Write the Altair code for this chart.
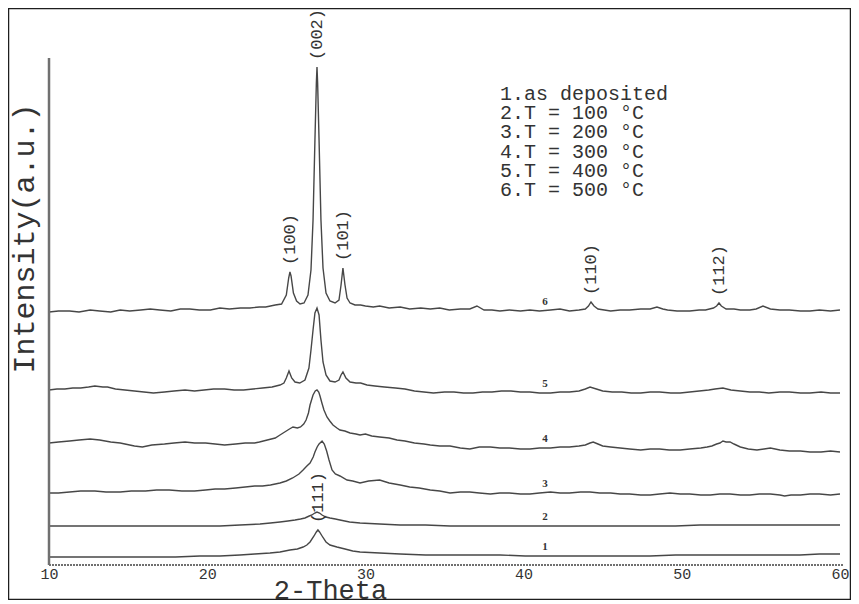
import altair as alt
import pandas as pd
import numpy as np

# ---------------- data ----------------
# 2-theta (degrees) and intensity (a.u., offset-stacked as drawn)
tt_1 = [10.0, 11.6, 13.22, 14.8, 16.38, 18.0, 19.54, 20.8, 22.07, 23.0, 23.97, 24.6, 25.23, 25.7, 26.06, 26.3,
        26.5, 26.75, 26.9, 27.0, 27.1, 27.26, 27.51, 27.76, 28.2, 28.71, 29.2, 29.66, 30.9, 32.19, 33.8, 35.35,
        36.9, 38.51, 40.1, 41.67, 43.2, 44.83, 46.4, 47.99, 49.6, 51.15, 52.7, 54.31, 55.9, 57.47, 58.7, 60.0]
int_1 = [8, 8, 8, 8, 8, 8, 9, 9, 10, 11, 12, 13, 15, 16, 18, 20,
         23, 29, 33, 35, 33, 29, 23, 20, 18, 16, 14, 13, 12, 11, 10, 10,
         10, 10, 9, 9, 9, 9, 9, 9, 10, 10, 10, 10, 10, 10, 11, 11]

tt_2 = [10.0, 11.6, 13.2, 14.8, 16.4, 18.0, 19.5, 20.8, 22.07, 23.34, 24.0, 24.6, 25.1, 25.55, 25.9, 26.18,
        26.45, 26.62, 26.8, 26.94, 27.1, 27.26, 27.5, 27.76, 28.1, 28.39, 29.0, 29.66, 30.9, 32.19, 33.8, 35.35,
        36.9, 38.51, 40.1, 41.67, 43.2, 44.83, 46.4, 47.99, 49.6, 51.15, 52.7, 54.31, 55.9, 57.47, 58.7, 60.0]
int_2 = [39, 39, 39, 39, 39, 39, 39, 39, 40, 41, 42, 43, 44, 45, 46, 47,
         49, 50, 52, 53, 52, 50, 48, 47, 46, 45, 43, 42, 41, 40, 40, 39,
         39, 39, 39, 39, 39, 39, 39, 39, 39, 40, 40, 40, 40, 40, 40, 40]

tt_3 = [10.0, 10.6, 11.3, 12.0, 12.9, 13.6, 14.5, 15.2, 16.1, 16.8, 17.6, 18.4, 19.2, 19.9, 20.5, 21.1,
        21.8, 22.4, 23.0, 23.5, 24.0, 24.6, 25.0, 25.4, 25.8, 26.06, 26.3, 26.5, 26.7, 26.81, 26.95, 27.07,
        27.26, 27.4, 27.55, 27.7, 27.89, 28.1, 28.39, 28.84, 29.2, 29.66, 30.2, 30.9, 31.5, 32.2, 32.8, 33.4,
        34.1, 34.7, 35.35, 36.0, 36.6, 37.2, 37.9, 38.5, 39.1, 39.8, 40.4, 41.0, 41.7, 42.3, 42.9, 43.6,
        44.2, 44.8, 45.5, 46.1, 46.7, 47.4, 48.0, 48.6, 49.25, 49.9, 50.5, 51.2, 51.8, 52.4, 53.05, 53.7,
        54.3, 54.9, 55.6, 56.2, 56.5, 56.9, 57.5, 58.1, 58.7, 59.4, 60.0]
int_3 = [72, 72, 73, 74, 74, 73, 73, 74, 74, 75, 75, 74, 74, 75, 76, 76,
         77, 78, 79, 79, 80, 82, 84, 87, 91, 95, 99, 102, 108, 113, 118, 121,
         124, 121, 114, 105, 95, 91, 89, 85, 84, 82, 84, 85, 82, 80, 78, 77,
         75, 74, 72, 73, 73, 72, 71, 72, 72, 71, 71, 72, 73, 72, 72, 73,
         73, 72, 72, 71, 71, 70, 70, 71, 72, 71, 71, 70, 70, 71, 71, 70,
         70, 71, 71, 70, 69, 70, 70, 71, 71, 70, 71]

tt_4 = [10.0, 10.6, 11.3, 11.9, 12.6, 13.2, 13.9, 14.5, 14.8, 15.4, 15.9, 16.5, 17.3, 17.9, 18.6, 19.2,
        19.9, 20.5, 21.1, 21.8, 22.4, 23.0, 23.3, 23.8, 24.3, 24.6, 24.9, 25.2, 25.42, 25.7, 25.9, 26.1,
        26.25, 26.4, 26.5, 26.69, 26.83, 26.94, 27.05, 27.13, 27.25, 27.38, 27.57, 27.75, 27.95, 28.2, 28.39, 28.7,
        29.03, 29.4, 29.66, 30.0, 30.4, 30.9, 31.5, 32.0, 32.5, 33.1, 33.7, 34.1, 34.7, 35.35, 36.0, 36.6,
        37.2, 37.9, 38.5, 39.1, 39.8, 40.4, 41.0, 41.7, 42.3, 42.9, 43.5, 43.9, 44.2, 44.4, 44.7, 45.0,
        45.5, 46.1, 46.7, 47.4, 48.0, 48.6, 49.2, 49.9, 50.5, 51.2, 51.6, 51.9, 52.2, 52.41, 52.6, 52.8,
        53.05, 53.3, 53.7, 54.2, 54.75, 55.2, 55.6, 56.2, 56.8, 57.5, 58.1, 58.8, 59.4, 60.0]
int_4 = [122, 123, 124, 125, 126, 125, 123, 122, 121, 119, 118, 120, 121, 122, 123, 122,
         122, 121, 120, 121, 122, 122, 123, 125, 127, 130, 133, 136, 138, 137, 138, 141,
         145, 152, 160, 170, 174, 175, 173, 169, 162, 155, 148, 144, 140, 137, 135, 134,
         132, 131, 130, 131, 129, 128, 127, 125, 124, 122, 121, 120, 119, 119, 117, 116,
         118, 118, 117, 117, 116, 116, 117, 117, 118, 118, 119, 120, 122, 123, 121, 119,
         118, 117, 116, 115, 116, 116, 115, 115, 116, 117, 118, 119, 121, 122, 124, 123,
         123, 121, 118, 116, 115, 116, 117, 115, 114, 114, 113, 113, 114, 113]

tt_5 = [10.0, 10.5, 11.0, 11.5, 12.0, 12.5, 12.9, 13.4, 13.7, 14.2, 14.8, 15.4, 16.0, 16.6, 17.3, 17.9,
        18.6, 19.2, 19.8, 20.4, 21.1, 21.7, 22.3, 22.9, 23.5, 24.1, 24.6, 24.85, 25.0, 25.17, 25.34, 25.55,
        25.85, 26.18, 26.43, 26.56, 26.69, 26.81, 26.94, 27.07, 27.19, 27.32, 27.51, 27.76, 28.08, 28.33, 28.46, 28.58,
        28.77, 29.03, 29.4, 29.7, 30.1, 30.6, 31.2, 31.9, 32.5, 33.1, 33.7, 34.3, 35.0, 35.6, 36.2, 36.8,
        37.4, 38.0, 38.6, 39.2, 39.8, 40.4, 41.0, 41.7, 42.3, 42.9, 43.5, 43.9, 44.2, 44.6, 45.0, 45.6,
        46.2, 46.8, 47.4, 48.0, 48.6, 49.3, 49.9, 50.5, 51.1, 51.7, 52.1, 52.6, 53.1, 53.7, 54.3, 54.9,
        55.5, 56.2, 56.8, 57.5, 58.1, 58.8, 59.4, 60.0]
int_5 = [175, 176, 176, 177, 177, 178, 179, 178, 178, 176, 175, 174, 173, 172, 173, 174,
         175, 174, 175, 176, 176, 175, 175, 176, 177, 178, 180, 182, 187, 194, 187, 183,
         182, 185, 197, 215, 235, 252, 257, 250, 225, 203, 190, 184, 183, 185, 190, 193,
         187, 183, 182, 182, 180, 179, 178, 177, 176, 174, 173, 172, 173, 173, 172, 172,
         173, 173, 174, 174, 173, 173, 172, 172, 173, 173, 174, 176, 178, 176, 174, 173,
         173, 172, 172, 173, 173, 172, 172, 173, 174, 175, 176, 177, 175, 174, 173, 173,
         172, 173, 173, 172, 172, 173, 172, 172]

tt_6 = [10.0, 10.6, 11.3, 11.9, 12.6, 13.2, 13.9, 14.5, 15.1, 15.8, 16.4, 17.0, 17.7, 18.3, 18.9, 19.5,
        20.2, 20.8, 21.4, 22.1, 22.7, 23.3, 23.7, 24.3, 24.7, 25.0, 25.15, 25.23, 25.3, 25.45, 25.65, 25.87,
        26.12, 26.37, 26.56, 26.69, 26.81, 26.9, 26.94, 26.98, 27.07, 27.19, 27.32, 27.51, 27.76, 28.08, 28.33, 28.46,
        28.58, 28.71, 28.84, 29.03, 29.34, 29.7, 30.0, 30.5, 30.9, 31.5, 32.2, 32.8, 33.5, 34.1, 34.7, 35.3,
        36.0, 36.6, 37.05, 37.5, 38.0, 38.5, 39.1, 39.8, 40.4, 41.0, 41.7, 42.3, 42.9, 43.5, 43.9, 44.1,
        44.26, 44.45, 44.7, 45.1, 45.5, 46.1, 46.7, 47.4, 48.0, 48.43, 48.8, 49.1, 49.7, 50.5, 51.1, 51.5,
        52.0, 52.2, 52.35, 52.5, 52.8, 53.3, 53.7, 54.3, 54.7, 55.13, 55.6, 56.2, 56.8, 57.5, 58.1, 58.7,
        59.4, 60.0]
int_6 = [253, 254, 254, 253, 255, 254, 253, 255, 254, 255, 256, 255, 254, 256, 256, 255,
         255, 257, 256, 257, 257, 258, 258, 260, 261, 270, 287, 293, 289, 272, 264, 261,
         262, 270, 295, 345, 425, 482, 498, 482, 425, 345, 297, 272, 264, 262, 265, 280,
         297, 280, 267, 262, 260, 260, 259, 258, 259, 257, 258, 256, 257, 256, 257, 255,
         256, 256, 259, 255, 255, 254, 255, 254, 255, 254, 255, 256, 254, 255, 256, 259,
         263, 259, 256, 255, 254, 255, 255, 256, 256, 258, 256, 255, 254, 254, 255, 255,
         257, 259, 262, 259, 256, 256, 255, 255, 256, 259, 256, 255, 255, 254, 254, 255,
         254, 255]

series_ids = ["1", "2", "3", "4", "5", "6"]
series_tt = [tt_1, tt_2, tt_3, tt_4, tt_5, tt_6]
series_int = [int_1, int_2, int_3, int_4, int_5, int_6]

# peak (hkl) labels: position and height of the labelled peak top
peak_labels = ["(100)", "(002)", "(101)", "(110)", "(112)", "(111)"]
peak_tt = [25.23, 26.94, 28.58, 44.26, 52.35, 27.0]
peak_int = [293, 498, 297, 263, 262, 35]

legend_lines = ["1.as  deposited", "2.T =  100 °C", "3.T =  200 °C",
                "4.T =  300 °C", "5.T =  400 °C", "6.T =  500 °C"]

x_ticks = [10, 20, 30, 40, 50, 60]
trace_label_tt = 41.35          # where the small trace numbers sit
axis_x_range = [10, 60.2]       # drawn extent of the 2-theta axis line
axis_y_range = [0, 507]         # drawn extent of the intensity axis line

# ---------------- tables ----------------
lines_df = pd.concat(
    [pd.DataFrame({"series": s, "two_theta": t, "intensity": v})
     for s, t, v in zip(series_ids, series_tt, series_int)],
    ignore_index=True)

peaks_df = pd.DataFrame({"label": peak_labels, "two_theta": peak_tt, "intensity": peak_int})

trace_lab_df = pd.DataFrame({
    "label": series_ids,
    "two_theta": [trace_label_tt] * len(series_ids),
    "intensity": [float(np.interp(trace_label_tt, t, v)) for t, v in zip(series_tt, series_int)],
})

xaxis_df = pd.DataFrame({"two_theta": [axis_x_range[0]], "two_theta2": [axis_x_range[1]], "intensity": [0]})
yaxis_df = pd.DataFrame({"two_theta": [axis_x_range[0]], "intensity": [axis_y_range[0]],
                         "intensity2": [axis_y_range[1]]})

# ---------------- chart ----------------
W, H = 843, 592
FONT = "Liberation Mono"
INK = "#333333"

x_scale = alt.Scale(domain=[7.408, 60.695], nice=False, zero=False)
y_scale = alt.Scale(domain=[-35, 557], nice=False, zero=False)

x_axis = alt.Axis(values=x_ticks, format="d", domain=False, ticks=False, grid=False, offset=-35,
                  labelFont=FONT, labelFontSize=15, labelColor=INK, labelPadding=1, labelFlush=False,
                  title="2-Theta", titleFont=FONT, titleFontSize=27, titleFontWeight="normal",
                  titleColor=INK, titleX=322, titleY=33, titleBaseline="alphabetic", titleAlign="center")
y_axis = alt.Axis(domain=False, ticks=False, labels=False, grid=False, offset=-41,
                  title="Intensity(a.u.)", titleFont=FONT, titleFontSize=30, titleFontWeight="normal",
                  titleColor=INK, titleAngle=270, titleX=-25, titleY=230,
                  titleBaseline="middle", titleAlign="center")

X = alt.X("two_theta:Q", scale=x_scale, axis=x_axis)
Y = alt.Y("intensity:Q", scale=y_scale, axis=y_axis)

traces = alt.Chart(lines_df).mark_line(color="#474747", strokeWidth=1.4).encode(
    x=X, y=Y, detail="series:N")

x_line = alt.Chart(xaxis_df).mark_rule(color="#707070", strokeWidth=2, strokeDash=[2, 1]).encode(
    x=X, x2="two_theta2:Q", y=Y)
y_line = alt.Chart(yaxis_df).mark_rule(color="#707070", strokeWidth=2.5).encode(
    x=X, y=Y, y2="intensity2:Q")

peak_text = alt.Chart(peaks_df).mark_text(
    angle=270, align="left", baseline="middle", dx=7, font=FONT, fontSize=17, color=INK
).encode(x=X, y=Y, text="label:N")

trace_text = alt.Chart(trace_lab_df).mark_text(
    font="Liberation Serif", fontSize=11, fontWeight="bold", dy=-9, color=INK
).encode(x=X, y=Y, text="label:N")

legend = alt.Chart(pd.DataFrame({"k": [0]})).mark_text(
    text=legend_lines, align="left", baseline="top", font=FONT, fontSize=20, lineHeight=19.2, color=INK
).encode(x=alt.value(492), y=alt.value(76))

chart = alt.layer(traces, x_line, y_line, peak_text, trace_text, legend).properties(
    width=W, height=H, padding=0, autosize="none", background="white"
).configure_view(stroke="#1e1e1e", strokeWidth=2.5)

chart.save("out.html", embed_options={"renderer": "svg", "actions": False})
